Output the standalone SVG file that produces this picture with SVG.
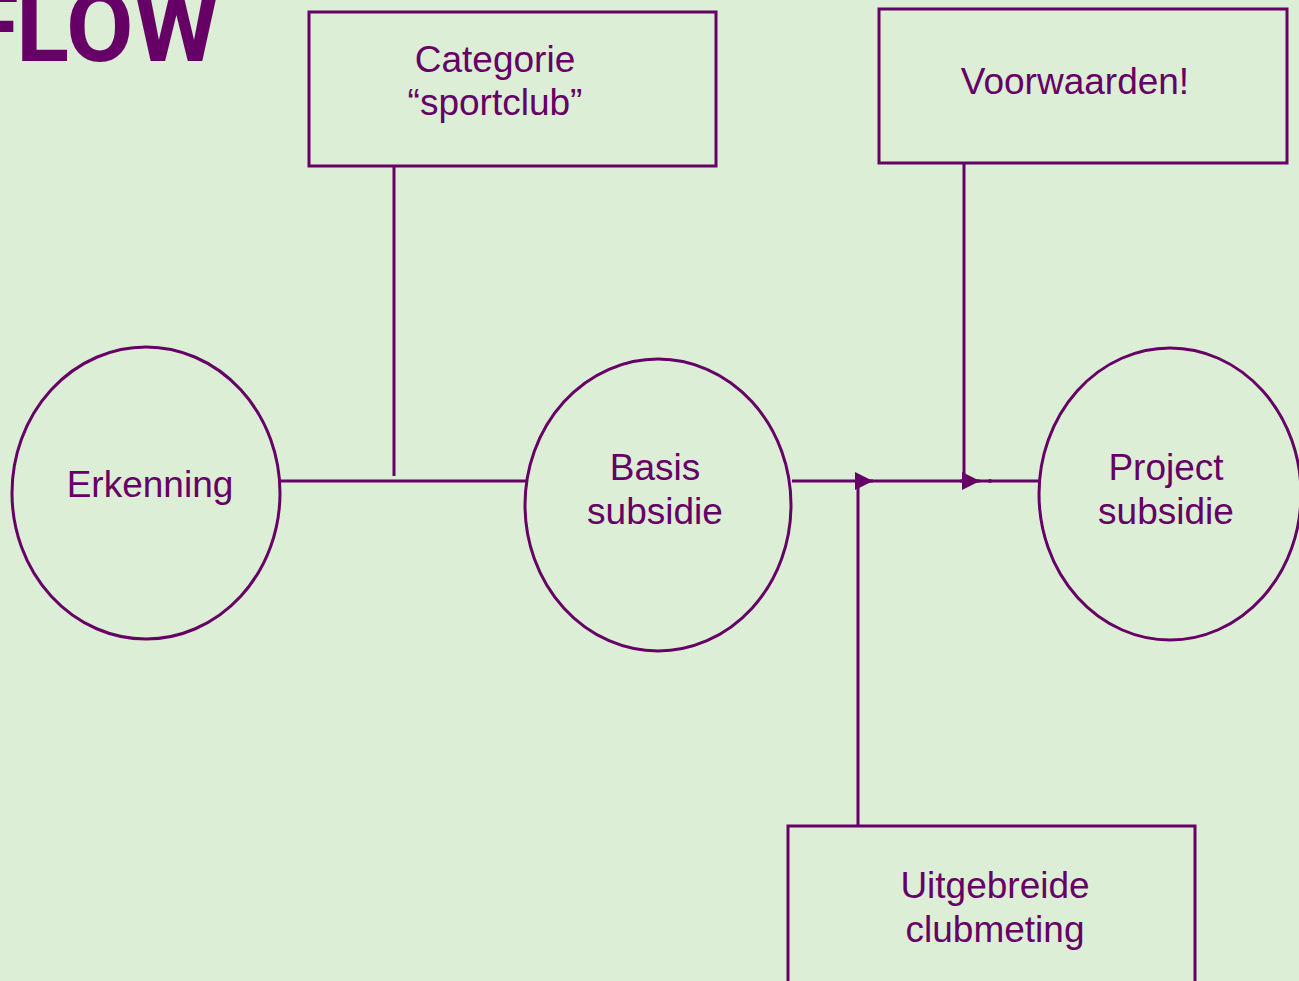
<svg xmlns="http://www.w3.org/2000/svg" width="1299" height="981" viewBox="0 0 1299 981">
<style>
.shape{fill:none;stroke:#660066;stroke-width:3}
.line{fill:none;stroke:#660066;stroke-width:3}
.lbl{font-family:"Liberation Sans",Arial,sans-serif;font-size:37px;fill:#660066;text-anchor:middle}
.title{font-family:Roboto,"Noto Sans",sans-serif;font-weight:bold;font-size:98px;fill:#660066}
</style>
<defs>
<marker id="arr" viewBox="0 0 10 10" refX="10" refY="5" markerWidth="6" markerHeight="6" markerUnits="strokeWidth" orient="auto">
<path d="M0,0 L10,5 L0,10 Z" fill="#660066"/>
</marker>
</defs>
<rect width="1299" height="981" fill="#DCEFD6"/>
<text class="title" y="61"><tspan x="-35">F</tspan><tspan x="16">LOW</tspan></text>
<g id="connectors">
<line class="line" x1="280" y1="481" x2="527" y2="481"/>
<line class="line" x1="394" y1="166" x2="394" y2="476"/>
<line class="line" x1="792" y1="481" x2="1038" y2="481"/>
<line class="line" x1="855" y1="481" x2="873" y2="481" marker-end="url(#arr)"/>
<line class="line" x1="858" y1="826" x2="858" y2="484"/>
<line class="line" x1="964" y1="163" x2="964" y2="478"/>
<line class="line" x1="960" y1="481" x2="980" y2="481" marker-end="url(#arr)"/>
<circle cx="990" cy="481" r="2" fill="#660066"/>
</g>
<g id="erkenning">
<ellipse class="shape" cx="146" cy="493" rx="134" ry="146"/>
<text class="lbl" x="150" y="497">Erkenning</text>
</g>
<g id="basis">
<ellipse class="shape" cx="658" cy="505" rx="133" ry="146"/>
<text class="lbl" x="655" y="480">Basis</text>
<text class="lbl" x="655" y="524">subsidie</text>
</g>
<g id="project">
<ellipse class="shape" cx="1170" cy="494" rx="131" ry="146"/>
<text class="lbl" x="1166" y="480">Project</text>
<text class="lbl" x="1166" y="524">subsidie</text>
</g>
<g id="categorie">
<rect class="shape" x="309" y="12" width="407" height="154"/>
<text class="lbl" x="495" y="72">Categorie</text>
<text class="lbl" x="495" y="115">“sportclub”</text>
</g>
<g id="voorwaarden">
<rect class="shape" x="879" y="9" width="408" height="154"/>
<text class="lbl" x="1075" y="94">Voorwaarden!</text>
</g>
<g id="uitgebreide">
<rect class="shape" x="788" y="826" width="407" height="160"/>
<text class="lbl" x="995" y="898">Uitgebreide</text>
<text class="lbl" x="995" y="942">clubmeting</text>
</g>
</svg>
